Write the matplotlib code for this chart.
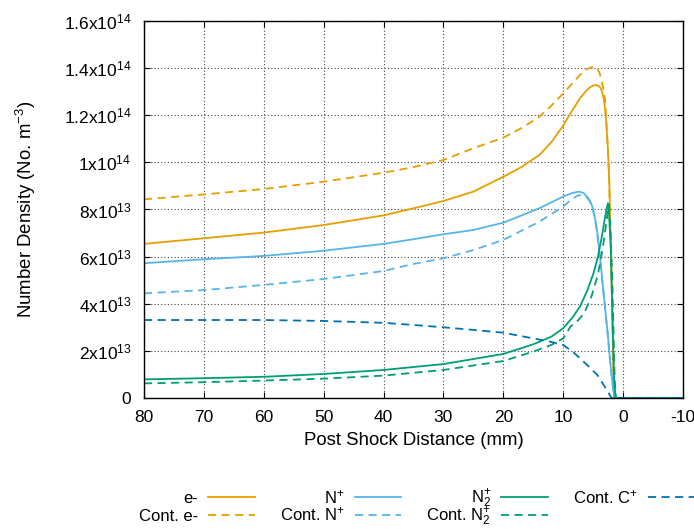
import numpy as np
import matplotlib.pyplot as plt

plt.rcParams['font.family'] = ['Liberation Sans', 'DejaVu Sans']
plt.rcParams['mathtext.default'] = 'regular'
plt.rcParams['axes.unicode_minus'] = False

# data, densities in units of 1e13 m^-3, x in mm
x_e = [80, 70, 60, 50, 40, 35, 30, 25, 20, 17, 14, 12, 10, 8.8, 7.2, 6.3, 5.5, 4.9, 4.4, 4.0, 3.7, 3.45, 3.2, 3.0, 2.8, 2.53, 2.3, 2.2, 2.0, 1.8, 1.6, 1.45, 0, -10]
y_e = [6.54, 6.78, 7.02, 7.34, 7.75, 8.05, 8.36, 8.76, 9.39, 9.8, 10.31, 10.85, 11.56, 12.08, 12.72, 13.0, 13.19, 13.27, 13.28, 13.22, 13.14, 12.95, 12.65, 12.25, 11.66, 10.53, 9.11, 7.98, 6.0, 3.5, 1.0, 0, 0, 0]

x_ce = [80, 70, 60, 50, 40, 35, 30, 25, 20, 17, 14.1, 12, 10, 8.2, 6.5, 5.5, 4.6, 4.0, 3.47, 3.0, 2.8, 2.53, 2.3, 2.2, 2.0, 1.8, 1.6, 1.45, 0, -10]
y_ce = [8.43, 8.64, 8.87, 9.18, 9.56, 9.8, 10.1, 10.6, 11.05, 11.45, 11.91, 12.4, 12.93, 13.43, 13.9, 14.02, 14.06, 13.85, 13.36, 12.65, 11.7, 10.5, 9.1, 8.0, 6.0, 3.5, 1.0, 0, 0, 0]

x_n = [80, 70, 60, 50, 40, 35, 30, 25, 20, 14, 12, 10, 8.5, 7.37, 6.6, 6.0, 5.5, 5.13, 4.7, 4.3, 3.9, 3.47, 3.0, 2.63, 2.3, 2.07, 1.8, 1.63, 1.4, 0, -10]
y_n = [5.72, 5.89, 6.03, 6.25, 6.54, 6.74, 6.95, 7.13, 7.44, 8.05, 8.3, 8.55, 8.7, 8.76, 8.7, 8.54, 8.35, 8.12, 7.65, 6.99, 6.1, 5.0, 3.8, 2.89, 1.95, 1.33, 0.7, 0.34, 0, 0, 0]

x_cn = [80, 70, 60, 50, 40, 35, 30, 25, 20, 14, 12, 10, 8.8, 8.2, 7.5, 6.6, 6.0, 5.5, 5.13, 4.7, 4.3, 3.9, 3.47, 3.0, 2.63, 2.3, 2.07, 1.8, 1.63, 1.4, 0, -10]
y_cn = [4.44, 4.58, 4.80, 5.05, 5.39, 5.69, 5.93, 6.28, 6.71, 7.48, 7.8, 8.12, 8.4, 8.5, 8.6, 8.62, 8.5, 8.32, 8.08, 7.6, 6.95, 6.05, 4.95, 3.75, 2.85, 1.9, 1.3, 0.68, 0.32, 0, 0, 0]

x_n2 = [80, 70, 60, 50, 40, 30, 20, 15, 12, 10, 8.5, 7.2, 6.0, 4.95, 4.2, 3.55, 3.0, 2.7, 2.53, 2.35, 2.07, 1.8, 1.5, 1.25, 0, -10]
y_n2 = [0.79, 0.84, 0.90, 1.02, 1.19, 1.44, 1.87, 2.28, 2.6, 2.96, 3.4, 3.88, 4.55, 5.29, 6.0, 6.85, 7.7, 8.1, 8.26, 7.8, 6.42, 3.6, 0.76, 0, 0, 0]

x_cn2 = [80, 70, 60, 50, 40, 30, 20, 15, 12, 10, 8.8, 7.5, 6.5, 5.3, 4.3, 3.7, 3.2, 2.6, 2.35, 2.1, 1.8, 1.6, 1.4, 1.2, 0, -10]
y_cn2 = [0.62, 0.67, 0.74, 0.82, 0.95, 1.19, 1.57, 1.97, 2.25, 2.53, 3.03, 3.3, 3.6, 4.3, 5.15, 5.9, 6.71, 7.84, 8.19, 7.0, 5.0, 2.8, 0.76, 0, 0, 0]

x_cc = [80, 70, 60, 50, 40, 35, 30, 25, 20, 15, 12, 10, 8.2, 6.0, 4.3, 2.9, 2.07, 1.9, 0, -10]
y_cc = [3.31, 3.31, 3.31, 3.27, 3.19, 3.10, 3.0, 2.89, 2.77, 2.53, 2.38, 2.25, 1.92, 1.40, 0.98, 0.41, 0.06, 0, 0, 0]

yticks = [0, 2e13, 4e13, 6e13, 8e13, 1e14, 1.2e14, 1.4e14, 1.6e14]
ylabels = ['0', '2x10$^{13}$', '4x10$^{13}$', '6x10$^{13}$', '8x10$^{13}$',
           '1x10$^{14}$', '1.2x10$^{14}$', '1.4x10$^{14}$', '1.6x10$^{14}$']
xticks = [80, 70, 60, 50, 40, 30, 20, 10, 0, -10]
xlabels = ['80', '70', '60', '50', '40', '30', '20', '10', '0', '-10']

c_e = '#E69F00'
c_n = '#56B4E9'
c_n2 = '#009E73'
c_c = '#0072B2'
dash = (0, (4.5, 3))
lw = 1.3

fig = plt.figure(figsize=(6.94, 5.29), dpi=100)
ax = fig.add_axes([144/694, 1-398/529, (683-144)/694, (398-21)/529])

sc = 1e13
l1, = ax.plot(x_e, np.array(y_e)*sc, color=c_e, lw=lw, label='e-')
l2, = ax.plot(x_ce, np.array(y_ce)*sc, color=c_e, lw=lw, ls=dash, label='Cont. e-')
l3, = ax.plot(x_n, np.array(y_n)*sc, color=c_n, lw=lw, label='N$^{+}$')
l4, = ax.plot(x_cn, np.array(y_cn)*sc, color=c_n, lw=lw, ls=dash, label='Cont. N$^{+}$')
l5, = ax.plot(x_n2, np.array(y_n2)*sc, color=c_n2, lw=lw, label='N$_2^{+}$')
l6, = ax.plot(x_cn2, np.array(y_cn2)*sc, color=c_n2, lw=lw, ls=dash, label='Cont. N$_2^{+}$')
l7, = ax.plot(x_cc, np.array(y_cc)*sc, color=c_c, lw=lw, ls=dash, label='Cont. C$^{+}$')

ax.set_xlim(80, -10)
ax.set_ylim(0, 1.6e14)
ax.set_xticks(xticks)
ax.set_xticklabels(xlabels)
ax.set_yticks(yticks)
ax.set_yticklabels(ylabels)
ax.tick_params(direction='in', top=True, right=True, length=4, labelsize=12.5)
ax.tick_params(axis='y', pad=9)
ax.tick_params(axis='x', pad=8.5)
ax.grid(True, color='#444444', ls=(0, (1, 2)), lw=0.8)
for s in ax.spines.values():
    s.set_linewidth(1.0)

ax.set_xlabel('Post Shock Distance (mm)', fontsize=13.4, labelpad=5)
ax.set_ylabel('Number Density (No. m$^{-3}$)', fontsize=13.4)
ax.yaxis.set_label_coords(-0.196, 0.5)

leg = fig.legend(handles=[l1, l2, l3, l4, l5, l6, l7], ncol=4, markerfirst=False,
                 frameon=False, loc='upper left', bbox_to_anchor=(139/694, 1-485/529),
                 fontsize=12, handlelength=2.8, handleheight=2.0, handletextpad=0.6,
                 columnspacing=1.5, labelspacing=-0.5, borderaxespad=0, borderpad=0)
# pull the sample lines down to the middle of the text
for h in leg.legend_handles:
    h.set_ydata(np.asarray(h.get_ydata()) - 2.2)

plt.savefig('out.png', dpi=100)
